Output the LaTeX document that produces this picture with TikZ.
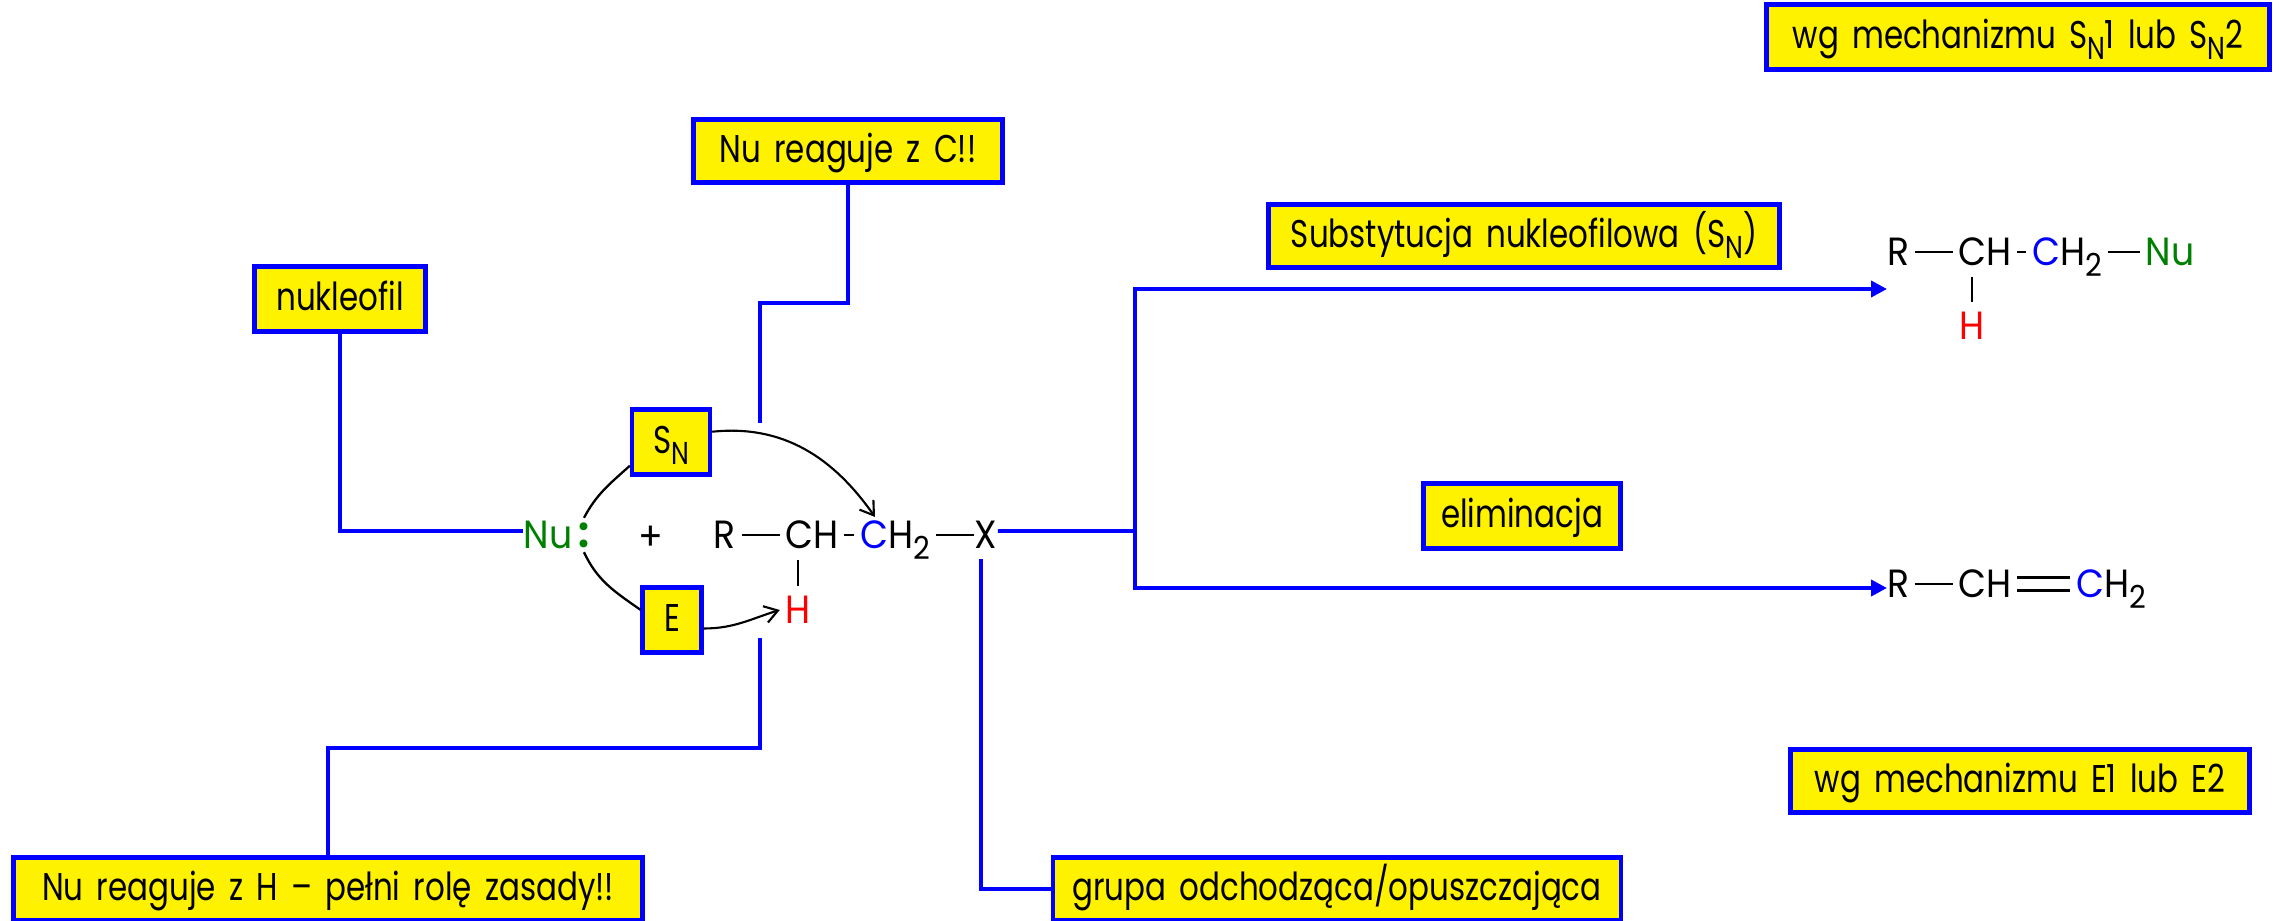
\documentclass[tikz,border=0pt]{standalone}
\usepackage{fontspec}
\setmainfont[FakeStretch=0.8,WordSpace=1.6]{Poppins}
\newfontfamily\chemfont[FakeStretch=0.92]{Poppins}
\usetikzlibrary{arrows.meta}
\definecolor{nugreen}{rgb}{0,0.5,0}
\newcommand{\lowidx}[1]{\raisebox{-0.5ex}{\fontsize{9}{10}\selectfont #1}}
\tikzset{
    note/.style={draw=blue, fill=yellow, line width=1.25pt, inner sep=0pt, text height=3.1mm, text depth=0.8mm},
    atom/.style={inner xsep=0.5mm, inner ysep=1mm, text depth=0pt, font=\fontsize{11.2}{13}\chemfont},
    wire/.style={draw=blue, line width=1.1pt},
    wirehead/.style={wire, -{Triangle[length=1.6mm,width=1.6mm]}},
    bond/.style={draw=black, line width=0.65pt},
    attack/.style={draw=black, line width=0.6pt, -{Straight Barb[length=1.3mm,width=1.7mm]}}
}
\begin{document}
\begin{tikzpicture}[font=\fontsize{11}{13}\selectfont]
    \useasboundingbox (0,0) rectangle (22.82,9.2);
    % boxes
    \node[note, minimum width=5.03cm, minimum height=0.65cm] (wgsn) at (20.18,8.83) {wg mechanizmu S\lowidx{N}1 lub S\lowidx{N}2};
    \node[note, minimum width=3.09cm, minimum height=0.63cm] (nucarbon) at (8.48,7.69) {Nu reaguje z C!!};
    \node[note, minimum width=5.11cm, minimum height=0.63cm] (subst) at (15.24,6.84) {Substytucja nukleofilowa (S\lowidx{N})};
    \node[note, minimum width=1.71cm, minimum height=0.65cm] (nukleofil) at (3.40,6.21) {nukleofil};
    \node[note, minimum width=0.78cm, minimum height=0.65cm] (sn) at (6.71,4.78) {S\lowidx{N}};
    \node[note, minimum width=0.59cm, minimum height=0.65cm] (elim) at (6.72,3.00) {E};
    \node[note, minimum width=1.97cm, minimum height=0.65cm] (eliminacja) at (15.22,4.04) {eliminacja};
    \node[note, minimum width=4.59cm, minimum height=0.63cm] (wge) at (20.20,1.39) {wg mechanizmu E1 lub E2};
    \node[note, minimum width=6.29cm, minimum height=0.63cm] (nuhydrogen) at (3.28,0.31) {Nu reaguje z H -- pełni rolę zasady!!};
    \node[note, minimum width=5.68cm, minimum height=0.63cm] (grupa) at (13.37,0.31) {grupa odchodząca/opuszczająca};
    % substrate
    \node[atom, inner xsep=0pt, text=nugreen] (nu) at (5.48,3.85) {Nu};
    \node[inner sep=0pt, text=nugreen, minimum height=3.3mm, font=\fontsize{12}{13}\chemfont\bfseries] (colon) at (5.84,3.85) {:};
    \node[font=\fontsize{11.2}{13}\chemfont] (plus) at (6.51,3.82) {+};
    \node[atom] (r) at (7.25,3.85) {R};
    \node[atom] (ch) at (8.12,3.85) {CH};
    \node[atom] (chtwo) at (8.95,3.85) {\textcolor{blue}{C}H\lowidx{2}};
    \node[atom, inner xsep=0pt] (xgroup) at (9.86,3.85) {X};
    \node[atom, text=red] (h) at (7.98,3.10) {H};
    \draw[bond] (r) -- (ch);
    \draw[bond] (ch) -- (chtwo);
    \draw[bond] (chtwo) -- (xgroup);
    \draw[bond] (h.north |- ch.south) -- (h.north);
    % substitution product
    \node[atom] (rs) at (18.98,6.68) {R};
    \node[atom] (chs) at (19.85,6.68) {CH};
    \node[atom] (chtwos) at (20.67,6.68) {\textcolor{blue}{C}H\lowidx{2}};
    \node[atom, text=nugreen] (nus) at (21.70,6.68) {Nu};
    \node[atom, text=red] (hs) at (19.72,5.94) {H};
    \draw[bond] (rs) -- (chs);
    \draw[bond] (chs) -- (chtwos);
    \draw[bond] (chtwos) -- (nus);
    \draw[bond] (hs.north |- chs.south) -- (hs.north);
    % elimination product
    \node[atom] (re) at (18.98,3.36) {R};
    \node[atom] (che) at (19.85,3.36) {CH};
    \node[atom] (chtwoe) at (21.11,3.36) {\textcolor{blue}{C}H\lowidx{2}};
    \draw[bond] (re) -- (che);
    \draw[bond, double, double distance=1.05mm] (che) -- (chtwoe);
    % blue lines
    \coordinate (split) at (11.35,3.89);
    \coordinate (intop) at (18.87,6.31);
    \coordinate (inbottom) at (18.87,3.32);
    \coordinate (carbonend) at (7.60,4.97);
    \coordinate (carbonturn) at (7.60,6.17);
    \coordinate (hydrogenend) at (7.60,2.82);
    \coordinate (hydrogenturn) at (7.60,1.72);
    \coordinate (leavingend) at (9.81,3.61);
    \draw[wire] (nukleofil.south) |- ([yshift=0.4mm]nu.west);
    \draw[wire] ([yshift=0.4mm]xgroup.east) -- (split);
    \draw[wirehead] (split) |- (intop);
    \draw[wirehead] (split) |- (inbottom);
    \draw[wire] (nucarbon.south) |- (carbonturn) -- (carbonend);
    \draw[wire] (hydrogenend) -- (hydrogenturn) -| (nuhydrogen.north);
    \draw[wire] (leavingend) |- (grupa.west);
    % curved arrows
    \coordinate (attackc) at (8.75,4.03);
    \draw[bond] (colon.north) to[out=62,in=222] (sn.210);
    \draw[bond] (colon.south) to[out=-65,in=145] (elim.162);
    \draw[attack] (sn.14) to[out=6,in=125] (attackc);
    \draw[attack] (elim.-15) to[out=0,in=197] (h.west);
\end{tikzpicture}
\end{document}
